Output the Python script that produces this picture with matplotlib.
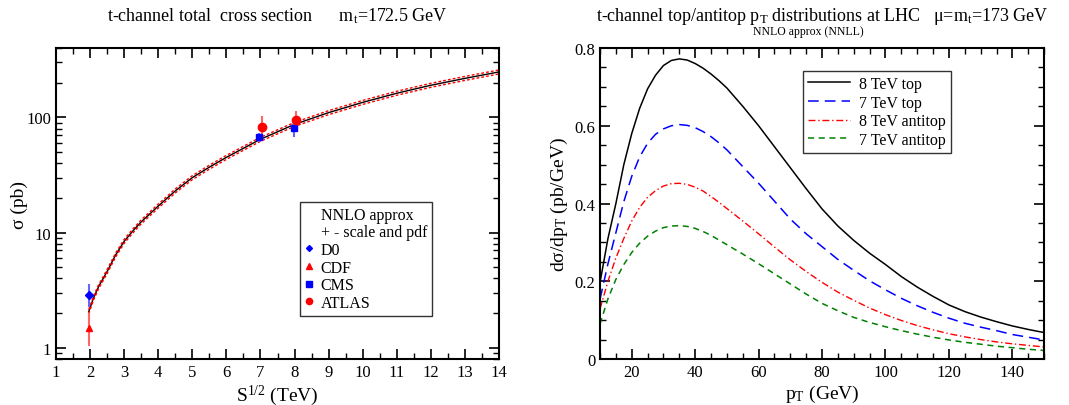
"""
t-channel single top: total cross section vs energy, and pT distributions
"""
import matplotlib
matplotlib.use("Agg")
import matplotlib.pyplot as plt
from matplotlib.lines import Line2D
from matplotlib.ticker import MultipleLocator, LogLocator, NullFormatter, FixedLocator

plt.rcParams['font.family'] = ['Liberation Serif', 'DejaVu Serif']
plt.rcParams['mathtext.fontset'] = 'custom'
plt.rcParams['mathtext.rm'] = 'Liberation Serif'
plt.rcParams['mathtext.it'] = 'Liberation Serif:italic'
plt.rcParams['mathtext.default'] = 'regular'

# ---- left panel: total cross section (pb) vs sqrt(S) (TeV)
roots = [1.96, 2.1, 2.25, 2.5, 2.75, 3, 3.25, 3.5, 4, 4.5, 5, 5.5, 6, 7, 8, 9, 10, 11, 12, 13, 14]
sigma = [2.06, 2.7, 3.4, 4.6, 6.4, 8.4, 10.3, 12.4, 17.0, 23.0, 30.0, 37.0, 45.0, 64.6, 87.0,
         110, 135, 162, 190, 218, 248]
# relative scale+pdf uncertainty
sigma_unc = [0.04] * len(roots)

# measurements: energy, value, err down, err up
d0_x, d0_y, d0_lo, d0_hi = [1.96], [2.90], [0.65], [0.70]
cdf_x, cdf_y, cdf_lo, cdf_hi = [1.96], [1.49], [0.45], [0.50]
cms_x, cms_y, cms_lo, cms_hi = [6.95, 7.98], [67.2, 80.1], [6.1, 13.0], [6.1, 13.0]
atlas_x, atlas_y, atlas_lo, atlas_hi = [7.04, 8.04], [83.0, 95.0], [20.0, 18.0], [20.0, 18.0]

# ---- right panel: dsigma/dpT (pb/GeV)
pt = [10, 12.5, 15, 17.5, 20, 22.5, 25, 27.5, 30, 32.5, 35, 37.5, 40, 42.5, 45, 47.5, 50,
      55, 60, 65, 70, 75, 80, 85, 90, 95, 100, 105, 110, 115, 120, 125, 130, 135, 140,
      145, 150]
top8 = [0.197, 0.31, 0.40, 0.50, 0.58, 0.645, 0.695, 0.73, 0.755, 0.768, 0.772, 0.769,
        0.760, 0.748, 0.733, 0.716, 0.697, 0.650, 0.600, 0.546, 0.492, 0.438, 0.386, 0.342,
        0.305, 0.272, 0.243, 0.212, 0.185, 0.161, 0.139, 0.122, 0.108, 0.096, 0.085,
        0.076, 0.068]
top7 = [0.154, 0.245, 0.325, 0.405, 0.47, 0.52, 0.555, 0.578, 0.592, 0.600, 0.603, 0.601,
        0.595, 0.585, 0.572, 0.556, 0.538, 0.495, 0.452, 0.406, 0.36, 0.322, 0.289, 0.256,
        0.228, 0.201, 0.178, 0.156, 0.137, 0.12, 0.105, 0.092, 0.082, 0.073, 0.063,
        0.056, 0.049]
antitop8 = [0.129, 0.20, 0.26, 0.31, 0.355, 0.39, 0.416, 0.433, 0.445, 0.451, 0.452, 0.449,
            0.442, 0.432, 0.418, 0.403, 0.387, 0.355, 0.322, 0.288, 0.255, 0.225, 0.197,
            0.172, 0.151, 0.131, 0.114, 0.099, 0.086, 0.075, 0.065, 0.057, 0.050, 0.044,
            0.039, 0.035, 0.031]
antitop7 = [0.09, 0.155, 0.205, 0.243, 0.274, 0.298, 0.316, 0.329, 0.338, 0.342, 0.343,
            0.341, 0.336, 0.328, 0.318, 0.306, 0.294, 0.27, 0.245, 0.219, 0.193, 0.167,
            0.143, 0.124, 0.107, 0.094, 0.083, 0.073, 0.064, 0.056, 0.049, 0.043, 0.038,
            0.033, 0.029, 0.025, 0.022]

fig = plt.figure(figsize=(10.69, 4.06), dpi=100)
ax1 = fig.add_axes([0.0524, 0.1133, 0.4144, 0.7660])
ax2 = fig.add_axes([0.5613, 0.1133, 0.4154, 0.7660])

# left panel
up = [s * (1 + u) for s, u in zip(sigma, sigma_unc)]
dn = [s * (1 - u) for s, u in zip(sigma, sigma_unc)]
ax1.plot(roots, sigma, color='black', lw=1.0)
ax1.plot(roots, up, color='red', lw=1.0, ls=(0, (2, 1.5)))
ax1.plot(roots, dn, color='red', lw=1.0, ls=(0, (2, 1.5)))

ax1.errorbar(d0_x, d0_y, yerr=[d0_lo, d0_hi], fmt='D', color='blue', ms=4,
             ecolor=(0.4, 0.4, 1.0), elinewidth=1.5, capsize=0)
ax1.errorbar(cdf_x, cdf_y, yerr=[cdf_lo, cdf_hi], fmt='^', color='red', ms=5,
             ecolor=(1.0, 0.4, 0.4), elinewidth=1.5, capsize=0)
ax1.errorbar(cms_x, cms_y, yerr=[cms_lo, cms_hi], fmt='s', color='blue', ms=5,
             ecolor=(0.4, 0.4, 1.0), elinewidth=1.5, capsize=0)
ax1.errorbar(atlas_x, atlas_y, yerr=[atlas_lo, atlas_hi], fmt='o', color='red', ms=6,
             ecolor=(1.0, 0.4, 0.4), elinewidth=1.5, capsize=0)

ax1.set_yscale('log')
ax1.set_xlim(1, 14)
ax1.set_ylim(0.8, 400)
ax1.xaxis.set_major_locator(MultipleLocator(1))
ax1.xaxis.set_minor_locator(MultipleLocator(0.5))
ax1.yaxis.set_major_locator(FixedLocator([1, 10, 100]))
ax1.yaxis.set_major_formatter(matplotlib.ticker.FixedFormatter(['1', '10', '100']))
ax1.yaxis.set_minor_locator(LogLocator(base=10, subs=range(2, 10)))
ax1.yaxis.set_minor_formatter(NullFormatter())
ax1.set_xlabel('S$^{1/2}$ (TeV)', fontsize=14, labelpad=2)
ax1.set_ylabel('σ (pb)', fontsize=14, labelpad=-1)
ax1.set_title('t-channel total  cross section      m$_t$=172.5 GeV', fontsize=13, pad=20)

blank = Line2D([], [], ls='none', marker='none')
handles = [blank, blank,
           Line2D([], [], ls='none', marker='D', color='blue', ms=3),
           Line2D([], [], ls='none', marker='^', color='red', ms=4),
           Line2D([], [], ls='none', marker='s', color='blue', ms=4),
           Line2D([], [], ls='none', marker='o', color='red', ms=4.5)]
labels = ['NNLO approx', '+ - scale and pdf', 'D0', 'CDF', 'CMS', 'ATLAS']
leg1 = ax1.legend(handles, labels, loc='upper left', bbox_to_anchor=(0.551, 0.505),
                  fontsize=11.5, handlelength=0.5, handletextpad=0.5, labelspacing=0.1,
                  borderpad=0.3, frameon=True, fancybox=False, borderaxespad=0)
leg1.get_frame().set_edgecolor('black')
leg1.get_frame().set_linewidth(1.0)

# right panel
ax2.plot(pt, top8, color='black', lw=1.1, label='8 TeV top')
ax2.plot(pt, top7, color='blue', lw=1.1, ls=(0, (7, 4)), label='7 TeV top')
ax2.plot(pt, antitop8, color='red', lw=1.0, ls=(0, (5, 2, 1, 2)), label='8 TeV antitop')
ax2.plot(pt, antitop7, color='green', lw=1.1, ls=(0, (4, 3)), label='7 TeV antitop')
ax2.set_xlim(10, 150)
ax2.set_ylim(0, 0.8)
ax2.xaxis.set_major_locator(MultipleLocator(20))
ax2.xaxis.set_minor_locator(MultipleLocator(5))
ax2.yaxis.set_major_locator(MultipleLocator(0.2))
ax2.yaxis.set_minor_locator(MultipleLocator(0.05))
ax2.yaxis.set_major_formatter(matplotlib.ticker.FuncFormatter(
    lambda v, p: '0' if abs(v) < 1e-9 else '%.1f' % v))
ax2.set_xlabel('p$_T$ (GeV)', fontsize=14, labelpad=2)
ax2.set_ylabel('dσ/dp$_T$ (pb/GeV)', fontsize=14, labelpad=3)
ax2.set_title('t-channel top/antitop p$_T$ distributions at LHC   μ=m$_t$=173 GeV',
              fontsize=13, pad=20)
ax2.text(0.47, 1.035, 'NNLO approx (NNLL)', transform=ax2.transAxes, fontsize=8.5,
         ha='center', va='bottom')
leg2 = ax2.legend(loc='upper left', bbox_to_anchor=(0.458, 0.926), fontsize=11.5,
                  handlelength=2.6, handletextpad=0.6, labelspacing=0.17,
                  borderpad=0.3, frameon=True, fancybox=False, borderaxespad=0)
leg2.get_frame().set_edgecolor('black')
leg2.get_frame().set_linewidth(1.0)

for ax in (ax1, ax2):
    ax.tick_params(which='both', direction='in', top=True, right=True, labelsize=12)
    ax.tick_params(which='major', length=7, width=1.2)
    ax.tick_params(which='minor', length=4, width=1.0)
    for s in ax.spines.values():
        s.set_linewidth(1.5)

fig.savefig('out.png', dpi=100)
